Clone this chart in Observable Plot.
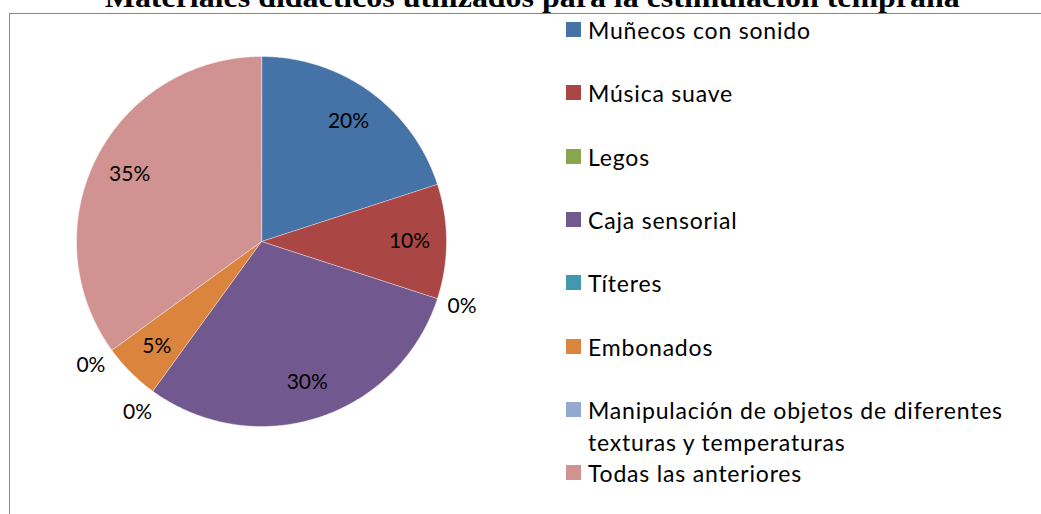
<!DOCTYPE html>
<html>
<head>
<meta charset="utf-8">
<script src="https://cdn.jsdelivr.net/npm/d3@7"></script>
<script src="https://cdn.jsdelivr.net/npm/@observablehq/plot@0.6"></script>
<style>
  html, body { margin: 0; padding: 0; background: #fff; overflow: hidden; }
  #wrap { position: relative; width: 1041px; height: 514px; overflow: hidden; }
  #frame { position: absolute; left: 9px; top: 13px; width: 1100px; height: 600px;
           border-left: 1.4px solid #878787; border-top: 1.4px solid #878787; }
  #title { position: absolute; left: 12px; width: 1041px; text-align: center; top: -19px;
           font-family: "Liberation Serif", "Times New Roman", serif; font-weight: bold;
           font-size: 29px; color: #000; white-space: nowrap; }
  #title span { display: inline-block; transform-origin: center; }
  #chart { position: absolute; left: 0; top: 0; }
  .legend { position: absolute; left: 566px; font-family: Lato, "Open Sans", sans-serif;
            font-size: 23px; letter-spacing: 0.8px; color: #000; }
  .legend .sw { position: absolute; left: 0; top: 0; width: 15px; height: 15px; }
  .legend .tx { position: absolute; left: 22px; top: -8px; width: 460px; line-height: 32px; }
</style>
</head>
<body>
<div id="wrap">
  <div id="frame"></div>
  <div id="title"><span>Materiales didácticos utilizados para la estimulación temprana</span></div>
  <div id="chart"></div>
</div>
<script>
const categories = [
  "Muñecos con sonido",
  "Música suave",
  "Legos",
  "Caja sensorial",
  "Títeres",
  "Embonados",
  "Manipulación de objetos de diferentes texturas y temperaturas",
  "Todas las anteriores"
];
const values = [20, 10, 0, 30, 0, 5, 0, 35];
const colors = ["#4572A7", "#AA4643", "#89A54E", "#71588F", "#4198AF", "#DB843D", "#93A9CF", "#D19392"];
const legendLabels = [
  "Muñecos con sonido",
  "Música suave",
  "Legos",
  "Caja sensorial",
  "Títeres",
  "Embonados",
  "Manipulación de objetos de diferentes<br>texturas y temperaturas",
  "Todas las anteriores"
];

const total = d3.sum(values);
const arcs = d3.pie().sort(null).value(d => d)(values);

const features = [];
const labels = [];
arcs.forEach((a, i) => {
  const pts = [[0, 0]];
  const n = Math.max(2, Math.ceil((a.endAngle - a.startAngle) / 0.01));
  for (let k = 0; k <= n; k++) {
    const t = a.startAngle + (a.endAngle - a.startAngle) * k / n;
    pts.push([Math.sin(t), -Math.cos(t)]);
  }
  pts.push([0, 0]);
  if (values[i] > 0) {
    features.push({type: "Feature", properties: {name: categories[i], color: colors[i]},
      geometry: {type: "Polygon", coordinates: [pts]}});
  }
  const mid = (a.startAngle + a.endAngle) / 2;
  const r = values[i] > 0 ? 0.8 : 1.14;
  labels.push({x: r * Math.sin(mid), y: -r * Math.cos(mid),
    text: Math.round(values[i] / total * 100) + "%"});
});

const chart = Plot.plot({
  width: 1041,
  height: 514,
  marginLeft: 76,
  marginRight: 595,
  marginTop: 56,
  marginBottom: 88,
  style: {background: "transparent", fontFamily: "Lato, 'Open Sans', sans-serif", overflow: "visible"},
  projection: {type: "identity", clip: false, domain: {type: "MultiPoint", coordinates: [[-1, -1], [1, 1]]}},
  marks: [
    Plot.geo(features, {fill: d => d.properties.color, stroke: "#ffffff", strokeWidth: 0.6, strokeOpacity: 0.7}),
    Plot.text(labels, {x: "x", y: "y", text: "text", fontSize: 21, fill: "#000"})
  ]
});
document.getElementById("chart").appendChild(chart);

const wrap = document.getElementById("wrap");
legendLabels.forEach((lab, i) => {
  const row = document.createElement("div");
  row.className = "legend";
  row.style.top = (22 + i * 63.3) + "px";
  row.innerHTML = `<div class="sw" style="background:${colors[i]}"></div><div class="tx">${lab}</div>`;
  wrap.appendChild(row);
});

// stretch title to match reference width
const span = document.querySelector("#title span");
const w = span.getBoundingClientRect().width;
span.style.transform = `scaleX(${855 / w})`;
</script>
</body>
</html>
